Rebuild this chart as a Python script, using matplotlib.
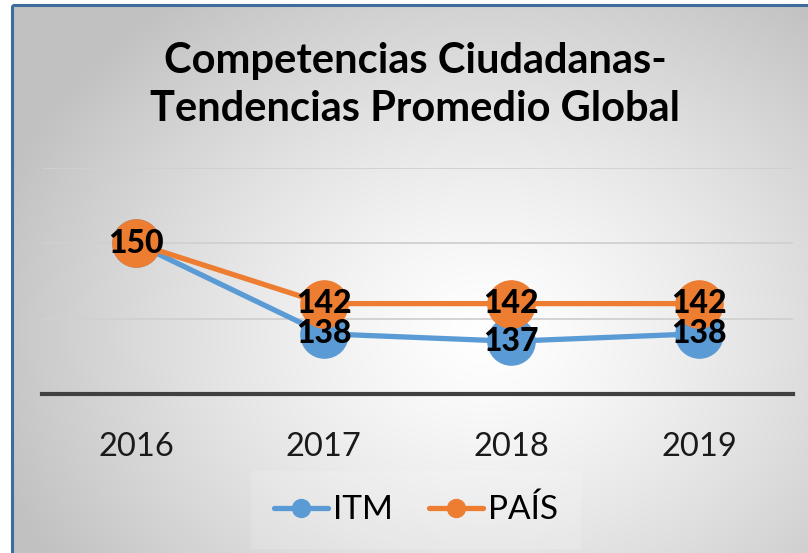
import numpy as np
import matplotlib
matplotlib.use("Agg")
import matplotlib.pyplot as plt
from matplotlib.patches import Rectangle

plt.rcParams['font.family'] = ['Lato', 'DejaVu Sans']

# Data
years = ['2016', '2017', '2018', '2019']
itm = [150, 138, 137, 138]
pais = [150, 142, 142, 142]

blue = '#5B9BD5'
orange = '#ED7D31'

W, H = 808, 553
fig = plt.figure(figsize=(W / 100, H / 100), dpi=100)
fig.patch.set_facecolor('white')

# Background: radial gradient inside the chart border
bg = fig.add_axes([0, 0, 1, 1], zorder=0)
bg.set_xlim(0, W)
bg.set_ylim(H, 0)
bg.axis('off')
yy, xx = np.mgrid[0:H, 0:W]
r = np.sqrt(((xx - 480) / 520.0) ** 2 + ((yy - 330) / 420.0) ** 2)
shade = 1.0 - 0.24 * np.clip(r, 0, 1) ** 1.3
img = np.dstack([shade, shade, shade])
bg.imshow(img, extent=(12, W + 2, H + 2, 5), interpolation='bilinear', aspect='auto')
bg.add_patch(Rectangle((12, 5), W + 10, H + 10, fill=False, edgecolor='#3F6C9F', linewidth=2.2))

# Main plot
ax = fig.add_axes([42 / W, 1 - 394 / H, (793 - 42) / W, (394 - 168) / H], zorder=1)
ax.patch.set_alpha(0)
x = np.arange(len(years))

ax.plot(x, itm, color=blue, linewidth=3.8, marker='o', markersize=34,
        solid_capstyle='round', label='ITM', zorder=3)
ax.plot(x, pais, color=orange, linewidth=3.8, marker='o', markersize=34,
        solid_capstyle='round', label='PAÍS', zorder=4)

for xi, v in zip(x, itm):
    if xi == 0:
        continue
    ax.text(xi, v, str(v), ha='center', va='center', fontsize=23, fontweight='black',
            color='black', zorder=6)
for xi, v in zip(x, pais):
    ax.text(xi, v, str(v), ha='center', va='center', fontsize=23, fontweight='black',
            color='black', zorder=6)

ax.set_xlim(-0.5, 3.5)
ax.set_ylim(130, 160)
ax.set_yticks([140, 150, 160])
ax.yaxis.grid(True, color='#D0D0D0', linewidth=1.3)
ax.set_axisbelow(True)
ax.tick_params(axis='y', left=False, labelleft=False)
ax.set_xticks(x)
ax.set_xticklabels(years, fontsize=23.5, color='#1a1a1a')
ax.tick_params(axis='x', bottom=False, pad=24)
for side in ['top', 'right', 'left']:
    ax.spines[side].set_visible(False)
ax.spines['bottom'].set_color('#404040')
ax.spines['bottom'].set_linewidth(3)

# Title
fig.text(415 / W, 1 - 85 / H, 'Competencias Ciudadanas-\nTendencias Promedio Global',
         ha='center', va='center', fontsize=30, fontweight='bold', linespacing=1.32)

# Legend
handles, labels = ax.get_legend_handles_labels()
leg = fig.legend(handles, labels, loc='center', bbox_to_anchor=(416 / W, 1 - 510 / H),
                 ncol=2, fontsize=24, frameon=True, markerscale=0.38, handlelength=1.6,
                 handletextpad=0.15, columnspacing=1.1, borderpad=0.4)
leg.get_frame().set_facecolor('white')
leg.get_frame().set_alpha(0.15)
leg.get_frame().set_edgecolor('none')
leg.get_frame().set_boxstyle('square')

fig.savefig('out.png', dpi=100)
